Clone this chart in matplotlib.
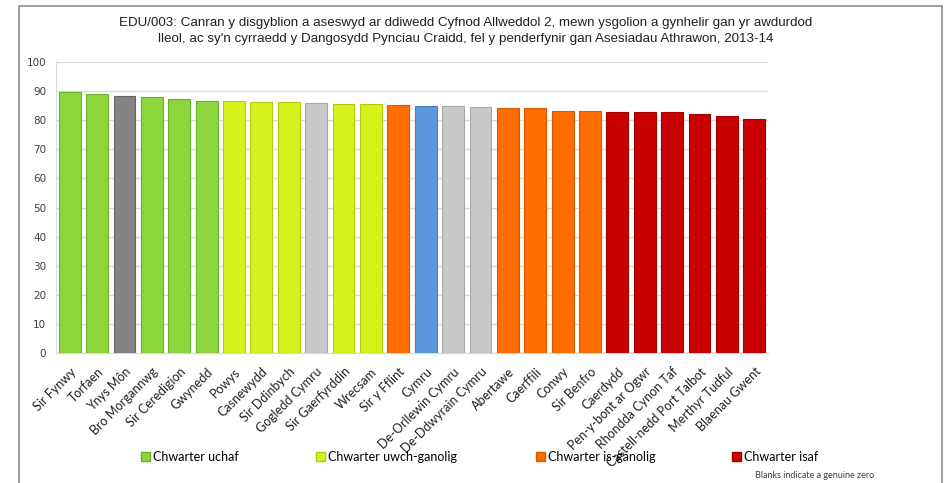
import matplotlib.pyplot as plt
from matplotlib import font_manager
from matplotlib.patches import Rectangle, Patch

# Chart data
areas = ["Sir Fynwy", "Torfaen", "Ynys Môn", "Bro Morgannwg", "Sir Ceredigion",
         "Gwynedd", "Powys", "Casnewydd", "Sir Ddinbych", "Gogledd Cymru",
         "Sir Gaerfyrddin", "Wrecsam", "Sir y Fflint", "Cymru", "De-Orllewin Cymru",
         "De-Ddwyrain Cymru", "Abertawe", "Caerffili", "Conwy", "Sir Benfro",
         "Caerdydd", "Pen-y-bont ar Ogwr", "Rhondda Cynon Taf",
         "Castell-nedd Port Talbot", "Merthyr Tudful", "Blaenau Gwent"]
values = [89.6, 89.1, 88.2, 88.1, 87.4, 86.6, 86.6, 86.3, 86.1, 85.8,
          85.6, 85.6, 85.1, 84.8, 84.8, 84.4, 84.3, 84.3, 83.2, 83.0,
          82.8, 82.8, 82.8, 82.2, 81.4, 80.4]
# group of each bar: quartile name, or a special marker for regions / Wales
groups = ["top", "top", "mon", "top", "top", "top", "upper", "upper", "upper", "region",
          "upper", "upper", "lower", "wales", "region", "region", "lower", "lower",
          "lower", "lower", "bottom", "bottom", "bottom", "bottom", "bottom", "bottom"]

title = ("EDU/003: Canran y disgyblion a aseswyd ar ddiwedd Cyfnod Allweddol 2, mewn ysgolion a gynhelir gan yr awdurdod\n"
         "lleol, ac sy'n cyrraedd y Dangosydd Pynciau Craidd, fel y penderfynir gan Asesiadau Athrawon, 2013-14")
legend_labels = ["Chwarter uchaf", "Chwarter uwch-ganolig", "Chwarter is-ganolig", "Chwarter isaf"]
note = "Blanks indicate a genuine zero"

colors = {"top": "#8CD63B", "upper": "#D4F11C", "lower": "#FF6C00", "bottom": "#C90000",
          "mon": "#838383", "region": "#C9C9C9", "wales": "#5B97DC"}
edges = {"top": "#6BB02C", "upper": "#B3CC12", "lower": "#D95A00", "bottom": "#A00000",
         "mon": "#666666", "region": "#A8A8A8", "wales": "#4A80C0"}

# narrow title font if available
names = {f.name for f in font_manager.fontManager.ttflist}
if "Liberation Sans Narrow" in names:
    title_font, title_size = "Liberation Sans Narrow", 11.3
else:
    title_font, title_size = "Liberation Sans", 9.6

fig = plt.figure(figsize=(9.49, 4.83), dpi=100)
fig.patches.append(Rectangle((19 / 949, -0.05), 923 / 949, 1.05 - 6 / 483,
                             transform=fig.transFigure, fill=False,
                             edgecolor="#8C8C8C", linewidth=1.2))

ax = fig.add_axes([56 / 949, 130 / 483, 712 / 949, 291 / 483])
x = range(len(areas))
ax.bar(x, values, width=0.8,
       color=[colors[g] for g in groups],
       edgecolor=[edges[g] for g in groups], linewidth=0.8, zorder=3)

ax.set_xlim(-0.5, len(areas) - 0.5)
ax.set_ylim(0, 100)
ax.set_yticks(range(0, 101, 10))
ax.yaxis.grid(True, color="#D9D9D9", linewidth=1.0, zorder=0)
ax.tick_params(axis="y", length=0, labelsize=7.5, labelcolor="#404040", pad=7)
ax.tick_params(axis="x", length=0, pad=9)
for s in ["top", "right"]:
    ax.spines[s].set_visible(False)
ax.spines["left"].set_color("#D9D9D9")
ax.spines["bottom"].set_color("#D9D9D9")

ax.set_xticks(list(x))
ax.set_xticklabels(areas, rotation=45, ha="right", rotation_mode="anchor",
                   fontsize=9, family="Lato", color="#202020")

fig.text(466 / 949, 1 - 31 / 483, title, ha="center", va="center",
         fontsize=title_size, family=title_font, color="#202020", linespacing=1.5)

handles = [Patch(facecolor=colors[k], edgecolor=edges[k]) for k in ["top", "upper", "lower", "bottom"]]
lx = [147, 322, 542, 738]
for h, lab, px in zip(handles, legend_labels, lx):
    fig.legend([h], [lab], loc="center left", bbox_to_anchor=(px / 949 - 0.006, 1 - 457 / 483),
               frameon=False, prop={"family": "Lato", "size": 9},
               handlelength=0.7, handleheight=0.7, handletextpad=0.2, borderaxespad=0, borderpad=0)

fig.text(755 / 949, 1 - 475 / 483, note, ha="left", va="center",
         fontsize=6.5, family="Lato", color="#404040")

fig.savefig("out.png", dpi=100)
